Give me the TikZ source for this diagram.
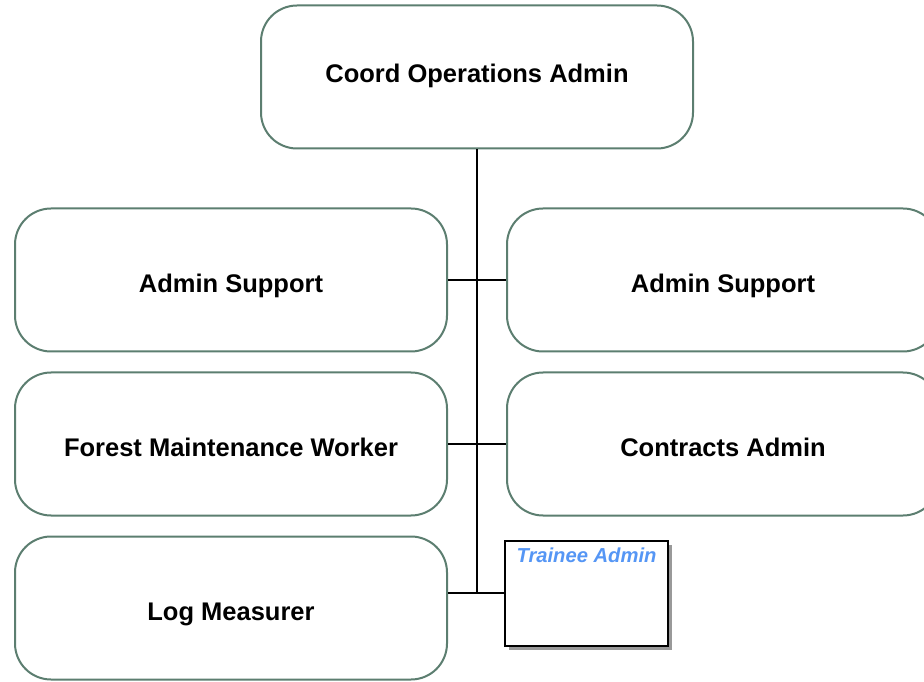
\documentclass[tikz,border=0pt]{standalone}
\usepackage{fontspec}
\setmainfont{Liberation Sans}
\usetikzlibrary{shadows}
\definecolor{boxline}{RGB}{92,126,112}
\definecolor{traineeblue}{RGB}{85,150,245}
\begin{document}
\begin{tikzpicture}[
            x=1pt, y=1pt,
            node distance=164pt,
            role/.style={draw=boxline, line width=2pt, rounded corners=36pt, fill=white,
                minimum width=432pt, minimum height=143pt, align=center,
                text height=25pt, text depth=0pt,
                font=\bfseries\fontsize{25.5}{30}\selectfont},
            trainee/.style={draw, line width=2pt, fill=white, minimum width=163pt,
                inner ysep=0pt, text height=22pt, text depth=83pt, text=traineeblue,
                font=\bfseries\itshape\fontsize{20.2}{24}\selectfont,
                drop shadow={shadow xshift=4pt, shadow yshift=-4pt, fill=gray!80, opacity=1}},
            link/.style={draw, line width=1.6pt}
        ]
            \useasboundingbox (0,0) rectangle (924,681);
            \clip (0,0) rectangle (924,681);

            \node[role, text height=12pt] (coord) at (477,604) {Coord Operations Admin};

            \node[role] (supportL) at (231,401) {Admin Support};
            \node[role, below of=supportL] (forest) {Forest Maintenance Worker};
            \node[role, below of=forest] (logm) {Log Measurer};

            \node[role] (supportR) at (723,401) {Admin Support};
            \node[role, below of=supportR] (contracts) {Contracts Admin};

            \node[trainee] (trainee) at (586.5,88) {Trainee Admin};

            \draw[link] (coord.south) -- (coord.south |- trainee.west);
            \draw[link] (supportL.east) -- (supportR.west);
            \draw[link] (forest.east) -- (contracts.west);
            \draw[link] (logm.east |- trainee.west) -- (trainee.west);

        \end{tikzpicture}
\end{document}
